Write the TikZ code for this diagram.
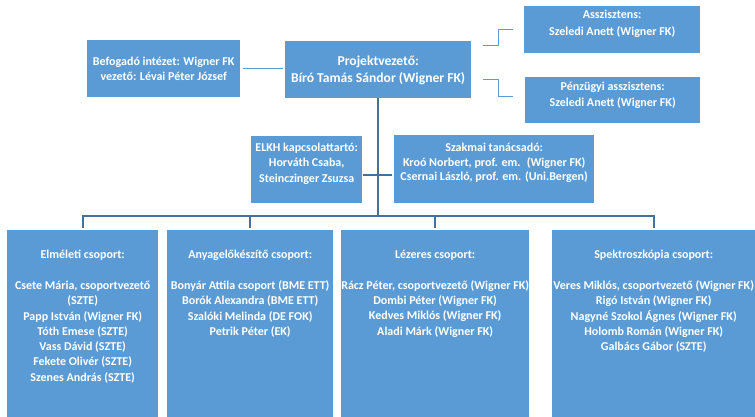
\documentclass[tikz,border=0pt]{standalone}
\usepackage{fontspec}
\setmainfont{Carlito}
\usetikzlibrary{calc}
\definecolor{boxblue}{HTML}{5B9BD5}
\definecolor{lineblue}{HTML}{41719C}
\begin{document}
\begin{tikzpicture}[x=1pt,y=-1pt,
  box/.style={fill=boxblue, draw=none, inner sep=0pt, anchor=north west},
  txt/.style={text=white, inner sep=0pt, align=center, font=\bfseries\fontsize{12}{15.3}\selectfont},
  bigtxt/.style={text=white, inner sep=0pt, align=center, font=\bfseries\fontsize{13.6}{17}\selectfont},
  toptxt/.style={txt, anchor=north, yshift=-20pt},
  trunk/.style={draw=lineblue, line width=2pt},
  drop/.style={draw=lineblue, line width=1.5pt},
  thin/.style={draw=boxblue, line width=1.3pt},
  elbow/.style={draw=boxblue, line width=1pt}]
\useasboundingbox (0,0) rectangle (755,417);
% top row
\node[box, minimum width=153pt, minimum height=57pt, label={[txt,font=\bfseries\fontsize{12}{14.3}\selectfont]center:{Befogadó intézet: Wigner FK\\vezető: Lévai Péter József}}] (bef) at (87,40) {};
\node[box, minimum width=186pt, minimum height=57pt, label={[bigtxt,yshift=-1pt]center:{Projektvezető:\\Bíró Tamás Sándor (Wigner FK)}}] (pv) at (285,41) {};
\node[box, minimum width=176pt, minimum height=47pt, label={[txt,yshift=6pt,font=\bfseries\fontsize{12}{17}\selectfont]center:{Asszisztens:\\Szeledi Anett (Wigner FK)}}] (asz) at (524,6) {};
\node[box, minimum width=175pt, minimum height=46pt, label={[txt,yshift=5pt,font=\bfseries\fontsize{12}{16}\selectfont]center:{Pénzügyi asszisztens:\\Szeledi Anett (Wigner FK)}}] (pz) at (525,77) {};
% middle row
\node[box, minimum width=111pt, minimum height=67pt, label={[txt,yshift=6pt]center:{ELKH kapcsolattartó:\\Horváth Csaba,\\Steinczinger Zsuzsa}}] (elkh) at (251,136) {};
\node[box, minimum width=200pt, minimum height=68pt, label={[txt,yshift=6.5pt,font=\bfseries\fontsize{12}{14}\selectfont]center:{Szakmai tanácsadó:\\[1pt]Kroó Norbert, prof. em.~ (Wigner FK)\\Csernai László, prof. em. (Uni.Bergen)}}] (szak) at (394,135) {};
% bottom row
\node[box, minimum width=151pt, minimum height=187pt, label={[toptxt]north:{Elméleti csoport:\\[15.5pt]Csete Mária, csoportvezető\\(SZTE)\\Papp István (Wigner FK)\\Tóth Emese (SZTE)\\Vass Dávid (SZTE)\\Fekete Olivér (SZTE)\\Szenes András (SZTE)}}] (b1) at (7,230) {};
\node[box, minimum width=166pt, minimum height=187pt, label={[toptxt]north:{Anyagelőkészítő csoport:\\[15.5pt]Bonyár Attila csoport (BME ETT)\\Borók Alexandra (BME ETT)\\Szalóki Melinda (DE FOK)\\Petrik Péter (EK)}}] (b2) at (167,230) {};
\node[box, minimum width=188pt, minimum height=187pt, label={[toptxt]north:{Lézeres csoport:\\[15.5pt]Rácz Péter, csoportvezető (Wigner FK)\\Dombi Péter (Wigner FK)\\Kedves Miklós (Wigner FK)\\Aladi Márk (Wigner FK)}}] (b3) at (341,230) {};
\node[box, minimum width=203pt, minimum height=187pt, label={[toptxt]north:{Spektroszkópia csoport:\\[15.5pt]Veres Miklós, csoportvezető (Wigner FK)\\Rigó István (Wigner FK)\\Nagyné Szokol Ágnes (Wigner FK)\\Holomb Román (Wigner FK)\\Galbács Gábor (SZTE)}}] (b4) at (552,230) {};
% connectors
\draw[thin] ($(bef.east)+(3,0)$) -- ($(pv.west |- bef.east)+(-2,0)$);
\draw[elbow] ($(pv.north east)+(12,5)$) -- ++(15,0) |- ($(asz.west)+(-11,0)$);
\draw[elbow] ($(pv.south east)+(12,-19)$) -- ++(15,0) |- ($(pz.west)+(-12,-4)$);
\coordinate (bus) at (378,216);
\draw[trunk] (pv.south) -- (pv.south |- bus);
\draw[trunk] ($(elkh.east)+(1,5)$) -- ($(szak.west |- elkh.east)+(-2,5)$);
\draw[trunk] ($(b1.north)+(0,-2)$) |- (bus) -| ($(b4.north)+(0,-2)$);
\draw[drop] ($(b2.north)+(0,-2)$) -- (b2.north |- bus);
\draw[drop] ($(b3.north)+(0,-2)$) -- (b3.north |- bus);
\end{tikzpicture}
\end{document}
